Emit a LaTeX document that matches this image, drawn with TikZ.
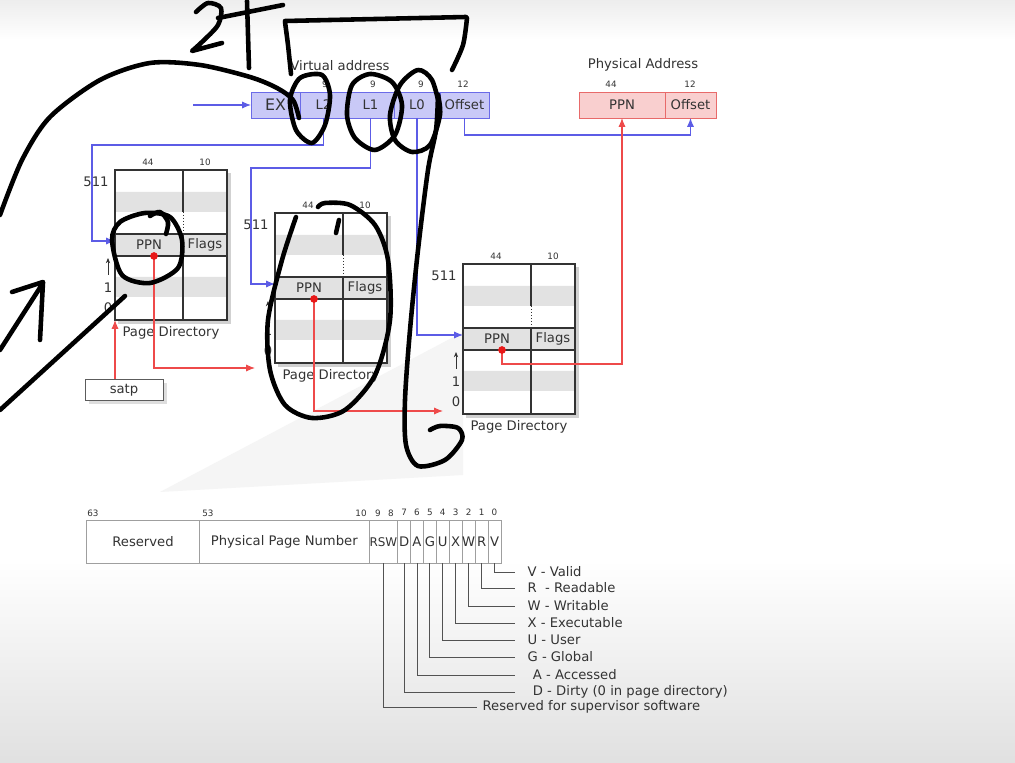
\documentclass[tikz,border=0pt]{standalone}
\usepackage{fontspec}
\setmainfont{DejaVu Sans}
\usetikzlibrary{positioning,calc,arrows.meta,shadows}

\definecolor{vafill}{HTML}{C9C9F7}
\definecolor{vaedge}{HTML}{6B6BE8}
\definecolor{vablue}{HTML}{5C5CE6}
\definecolor{pafill}{HTML}{F9CFCF}
\definecolor{paedge}{HTML}{E86A6A}
\definecolor{pared}{HTML}{EE4A4A}
\definecolor{dotred}{HTML}{E81818}
\definecolor{inkgray}{HTML}{333333}
\definecolor{stripe}{HTML}{E2E2E2}

\begin{document}
\begin{tikzpicture}[
        x=0.02cm, y=-0.02cm,
        font=\fontsize{7.5}{9}\selectfont, text=inkgray,
        vacell/.style={draw=vaedge, fill=vafill, minimum height=0.52cm, inner sep=0pt, outer sep=0pt},
        pacell/.style={draw=paedge, fill=pafill, minimum height=0.52cm, inner sep=0pt, outer sep=0pt},
        bitnum/.style={font=\fontsize{5}{6}\selectfont, inner sep=0pt},
        pdline/.style={inkgray, line width=0.7pt},
        ptecell/.style={draw=gray!75, fill=white, minimum height=0.852cm, inner sep=0pt, outer sep=0pt},
        flagcell/.style={ptecell, minimum width=0.258cm},
        blueline/.style={vablue, line width=0.6pt, -{Latex[length=5pt,width=4pt]}},
        redline/.style={pared, line width=0.6pt, -{Latex[length=5pt,width=4pt]}},
        legline/.style={inkgray!85, line width=0.55pt},
        legtext/.style={anchor=west, inner xsep=7pt, inner ysep=0pt},
        ink/.style={line width=2.6pt, line cap=round, line join=round, black},
    ]
    \useasboundingbox (0,0) rectangle (1015,763);
    \fill[white] (0,0) rectangle (1015,763);
    \shade[top color=black!7, bottom color=white] (0,0) rectangle (1015,40);
    \shade[top color=white, bottom color=black!12] (0,560) rectangle (1015,763);
    \fill[black!4] (160,492) -- (463,332) -- (463,475) -- cycle;

    % virtual address
    \node (valabel) at (340,66) {Virtual address};
    \node[vacell, minimum width=0.98cm, font=\fontsize{9}{10}\selectfont] (ex) at (275.5,105) {EX};
    \node[vacell, minimum width=0.94cm, right=0pt of ex] (l2) {L2};
    \node[vacell, minimum width=0.94cm, right=0pt of l2] (l1) {L1};
    \node[vacell, minimum width=0.92cm, right=0pt of l1] (l0) {L0};
    \node[vacell, minimum width=0.98cm, right=0pt of l0] (vaoff) {Offset};
    \node[bitnum] at (325,84) {9};
    \node[bitnum] at (373,84) {9};
    \node[bitnum] at (421,84) {9};
    \node[bitnum] at (463,84) {12};
    \coordinate (vain) at (193,105);

    % physical address
    \node (palabel) at (643,65) {Physical Address};
    \node[pacell, minimum width=1.72cm] (pappn) at (622,105) {PPN};
    \node[pacell, minimum width=1.02cm, right=0pt of pappn] (paoff) {Offset};
    \node[bitnum] at (611,84) {44};
    \node[bitnum] at (690,84) {12};

    % page directories
    \foreach \n/\x/\y in {pd1/115/170, pd2/275/213, pd3/463/264} {
        \begin{scope}[shift={(\x,\y)}]
            \fill[black!18] (3,3) rectangle (116,154);
            \fill[white] (0,0) rectangle (112,150);
            \fill[stripe] (0,22) rectangle (112,42) (0,64) rectangle (112,86) (0,107) rectangle (112,127);
            \draw[pdline] (0,64) -- (112,64) (0,86) -- (112,86) (68,0) -- (68,42) (68,64) -- (68,150);
            \draw[pdline, densely dotted, line width=0.3pt] (68,42) -- (68,64);
            \draw[pdline] (0,0) rectangle (112,150);
            \node (\n-ppn) at (34,75) {PPN};
            \node (\n-flags) at (90,75) {Flags};
            \node[bitnum] (\n-w44) at (33,-8) {44};
            \node[bitnum] (\n-w10) at (90,-8) {10};
            \node (\n-top) at (-19,12) {511};
            \node (\n-one) at (-7,118) {1};
            \node (\n-zero) at (-7,138) {0};
            \draw[-{Stealth[length=3pt,width=2.4pt]}, inkgray, line width=0.4pt] (-7,105) -- (-7,88);
            \node (\n-name) at (56,163) {Page Directory};
            \coordinate (\n-in) at (0,71);
            \coordinate (\n-base) at (0,150);
            \coordinate (\n-dot) at (39,86);
        \end{scope}
    }

    \node[draw=inkgray!80, fill=white, minimum width=1.56cm, minimum height=0.42cm, inner sep=0pt,
        drop shadow={shadow xshift=2pt, shadow yshift=-2pt, fill=gray!50}] (satp) at (124,390) {satp};

    % blue: index bits
    \draw[blueline] (vain) -- (ex.west);
    \draw[blueline] (l2.south) -- ++(0,27) -| ($(pd1-in)+(-23,0)$) -- (pd1-in);
    \draw[blueline] (l1.south) -- ++(0,50) -| ($(pd2-in)+(-24,0)$) -- (pd2-in);
    \draw[blueline] (l0.south) |- (pd3-in);
    \draw[blueline] (vaoff.south) -- ++(0,17) -| (paoff.south);

    % red: ppn chain
    \draw[redline] (satp.north -| pd1-base) -- (pd1-base);
    \draw[redline] (pd1-dot) |- ($(pd2-base)+(-20,5)$);
    \draw[redline] (pd2-dot) |- ($(pd3-base)+(-20,-3)$);
    \draw[redline] (pd3-dot) -- ++(0,14) -| (pappn.south);
    \foreach \n in {pd1,pd2,pd3}
        \fill[dotred] (\n-dot) circle (2.2pt);

    % page table entry
    \node[ptecell, minimum width=2.252cm] (rsvd) at (143,542) {Reserved};
    \node[ptecell, minimum width=3.4cm, right=0pt of rsvd] (ppnf) {Physical Page Number};
    \node[ptecell, minimum width=0.568cm, right=0pt of ppnf, font=\fontsize{6.8}{8}\selectfont] (rsw) {RSW};
    \foreach \f/\p/\b in {D/rsw/7, A/f-D/6, G/f-A/5, U/f-G/4, X/f-U/3, W/f-X/2, R/f-W/1, V/f-R/0} {
        \node[flagcell, right=0pt of \p] (f-\f) {\f};
        \node[bitnum, above=2.5pt of f-\f.north] {\b};
    }
    \node[bitnum] at (93,513) {63};
    \node[bitnum] at (208,513) {53};
    \node[bitnum] at (361,513) {10};
    \node[bitnum] at (378,513) {9};
    \node[bitnum] at (391,513) {8};

    \foreach \f/\txt/\yy/\sep in {V/V - Valid/572/7pt, R/R\ \ - Readable/588/7pt, W/W - Writable/606/7pt,
            X/X - Executable/623/7pt, U/U - User/640/7pt, G/G - Global/657/7pt,
            A/A - Accessed/675/10pt, D/D - Dirty (0 in page directory)/692/10pt} {
        \node[legtext, inner xsep=\sep] (leg-\f) at (515,\yy) {\txt};
        \draw[legline] (f-\f.south) |- (leg-\f.west);
    }
    \node[legtext, inner xsep=3pt] (leg-rsw) at (477,707) {Reserved for supervisor software};
    \draw[legline] (rsw.south) |- (leg-rsw.west);

    % pen marks
    \draw[ink] plot[smooth] coordinates {(196,12) (208,3) (221,8) (218,25) (202,42) (192,51)} -- (222,43);
    \draw[ink] (218,18) -- (283,5);
    \draw[ink] (247,1) -- (249,68);
    \draw[ink] plot[smooth] coordinates {(291,74) (288,45) (285,22)};
    \draw[ink] (285,21) -- (466,17);
    \draw[ink] plot[smooth] coordinates {(467,18) (463,45) (452,70)};
    \draw[ink] plot[smooth] coordinates {(0,215) (22,160) (50,117) (100,80) (150,63) (200,65) (250,77) (277,88) (293,100) (299,118)};
    \draw[ink] plot[smooth cycle] coordinates {(300,78) (290,100) (296,130) (312,143) (325,125) (330,95) (322,75)};
    \draw[ink] plot[smooth cycle] coordinates {(347,115) (352,85) (370,74) (392,82) (402,105) (395,135) (375,150) (355,138)};
    \draw[ink] plot[smooth] coordinates {(440,108) (432,80) (418,70) (400,85) (390,115) (395,140) (412,152) (430,145) (440,115) (438,95)};
    \draw[ink] plot[smooth] coordinates {(438,95) (436,130) (428,170) (418,250) (410,330) (405,400) (406,445) (418,466) (445,460) (462,440) (458,428) (440,426) (430,430)};
    \draw[ink] plot[smooth cycle] coordinates {(112,240) (120,222) (145,213) (170,217) (182,240) (178,268) (150,283) (122,275)};
    \draw[ink] plot[smooth] coordinates {(150,216) (160,212) (168,222) (166,234)};
    \draw[ink] (0,410) -- (125,296);
    \draw[ink] (0,350) -- (43,283);
    \draw[ink] (12,292) -- (43,282) -- (40,340);
    \draw[ink] plot[smooth] coordinates {(296,217) (282,260) (268,320) (270,370) (285,405) (312,418) (345,410) (375,375) (390,320) (388,260) (375,225) (350,205) (325,203) (318,207)};
    \draw[ink] (339,220) -- (336,233);
\end{tikzpicture}
\end{document}
